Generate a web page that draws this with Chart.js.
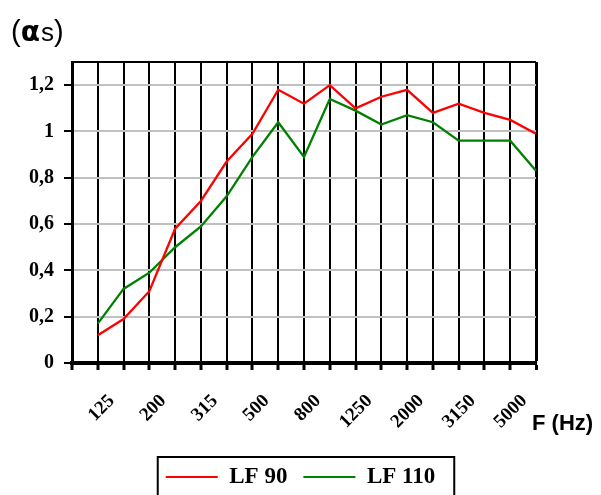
<!DOCTYPE html>
<html><head><meta charset="utf-8">
<script src="https://cdn.jsdelivr.net/npm/chart.js@4.4.0/dist/chart.umd.min.js"></script>
<style>html,body{margin:0;padding:0;background:#fff;overflow:hidden}</style>
</head><body>
<canvas id="c" width="601" height="495" style="display:block;width:601px;height:495px"></canvas>
<script>
const frequencies = ['125','160','200','250','315','400','500','630','800','1000','1250','1600','2000','2500','3150','4000','5000','6300'];
const lf90 = [0.12,0.19,0.31,0.58,0.70,0.87,0.99,1.18,1.12,1.20,1.10,1.15,1.18,1.08,1.12,1.08,1.05,0.99];
const lf110 = [0.17,0.32,0.39,0.50,0.59,0.72,0.89,1.04,0.89,1.14,1.09,1.03,1.07,1.04,0.96,0.96,0.96,0.83];
const seriesNames = ['LF 90','LF 110'];
const yTickValues = [0,0.2,0.4,0.6,0.8,1,1.2];
const yTickLabels = ['0','0,2','0,4','0,6','0,8','1','1,2'];
const yMax = 1.3;
const titleParts = ['(', '\u03B1', 's', ')'];
const xAxisTitle = 'F (Hz)';

const toPoints = arr => arr.map((v, i) => ({x: i + 1, y: v}));

const LEGEND_FONT = 23, LEGEND_PAD = 16;

const decorations = {
  id: 'decorations',
  afterLayout(chart) {
    chart.legend.top += 3.5;
    chart.legend.bottom += 3.5;
  },
  afterDraw(chart) {
    const ctx = chart.ctx;
    ctx.save();
    ctx.fillStyle = '#000';
    ctx.textBaseline = 'alphabetic';
    ctx.textAlign = 'left';
    const fonts = ['29px "Liberation Sans"', 'bold 28px "DejaVu Sans"', '500 26px "Liberation Sans"', '29px "Liberation Sans"'];
    let x = 11;
    titleParts.forEach((t, i) => {
      ctx.font = fonts[i];
      ctx.fillText(t, x, 41);
      x += ctx.measureText(t).width + (i === 1 ? 1 : 0);
    });
    ctx.font = 'bold 22px "Liberation Sans"';
    ctx.fillText(xAxisTitle, 532, 430);
    const hb = chart.legend.legendHitBoxes;
    if (hb && hb.length) {
      const l = Math.min(...hb.map(h => h.left)) - 8;
      const r = Math.max(...hb.map(h => h.left + h.width)) + 19;
      const cy = chart.legend.top + LEGEND_PAD + LEGEND_FONT / 2;
      ctx.strokeStyle = '#000';
      ctx.lineWidth = 2;
      ctx.strokeRect(l, cy - 20, r - l, 80);
    }
    ctx.restore();
  }
};

new Chart(document.getElementById('c'), {
  type: 'line',
  data: {
    datasets: [
      {label: seriesNames[0], data: toPoints(lf90), borderColor: '#ff0000', backgroundColor: '#ff0000', borderWidth: 2.3, pointRadius: 0, tension: 0, clip: false},
      {label: seriesNames[1], data: toPoints(lf110), borderColor: '#008000', backgroundColor: '#008000', borderWidth: 2.3, pointRadius: 0, tension: 0, clip: false}
    ]
  },
  options: {
    responsive: false,
    animation: false,
    devicePixelRatio: 1,
    layout: {padding: {top: 62, left: 0, right: 0, bottom: 0}},
    plugins: {
      title: {display: false},
      tooltip: {enabled: false},
      legend: {
        display: true,
        position: 'bottom',
        labels: {
          color: '#000',
          font: {family: 'Liberation Serif', size: LEGEND_FONT, weight: 'bold'},
          boxWidth: 52,
          boxHeight: 2,
          padding: LEGEND_PAD,
          generateLabels: chart => Chart.defaults.plugins.legend.labels.generateLabels(chart).map(l => Object.assign(l, {lineWidth: 0}))
        }
      }
    },
    scales: {
      x: {
        type: 'linear',
        min: 0,
        max: frequencies.length,
        afterBuildTicks: s => { s.ticks = Array.from({length: frequencies.length + 1}, (_, i) => ({value: i})); },
        afterFit: s => { s.height = 83; },
        ticks: {
          autoSkip: false,
          minRotation: 45,
          maxRotation: 45,
          labelOffset: 14,
          padding: 20,
          color: '#000',
          font: {family: 'Liberation Serif', size: 19, weight: 'bold'},
          callback: v => (v >= 1 && (v - 1) % 2 === 0) ? frequencies[v - 1] : ''
        },
        grid: {color: '#000', lineWidth: c => c.index === frequencies.length ? 3 : 2, tickLength: 7, tickWidth: 3, tickColor: '#000'},
        border: {display: true, color: '#000', width: 4}
      },
      y: {
        type: 'linear',
        z: -1,
        min: 0,
        max: yMax,
        afterBuildTicks: s => { s.ticks = [...yTickValues, yMax].map(v => ({value: v})); },
        afterFit: s => { s.width = 72; },
        ticks: {
          padding: 10,
          color: '#000',
          font: {family: 'Liberation Serif', size: 20, weight: 'bold'},
          callback: v => { const i = yTickValues.indexOf(v); return i >= 0 ? yTickLabels[i] : ''; }
        },
        grid: {
          color: c => (c.tick && c.tick.value === yMax) ? '#000' : '#c0c0c0',
          lineWidth: 2,
          tickLength: 8,
          tickWidth: 2,
          tickColor: c => (c.tick && c.tick.value === yMax) ? 'rgba(0,0,0,0)' : '#000'
        },
        border: {display: true, color: '#000', width: 3}
      },
      y2: {
        type: 'linear',
        position: 'right',
        display: true,
        min: 0,
        max: yMax,
        afterFit: s => { s.width = 65; },
        ticks: {display: false},
        grid: {display: false, drawTicks: false},
        border: {display: false}
      }
    }
  },
  plugins: [decorations]
});
</script>
</body></html>
